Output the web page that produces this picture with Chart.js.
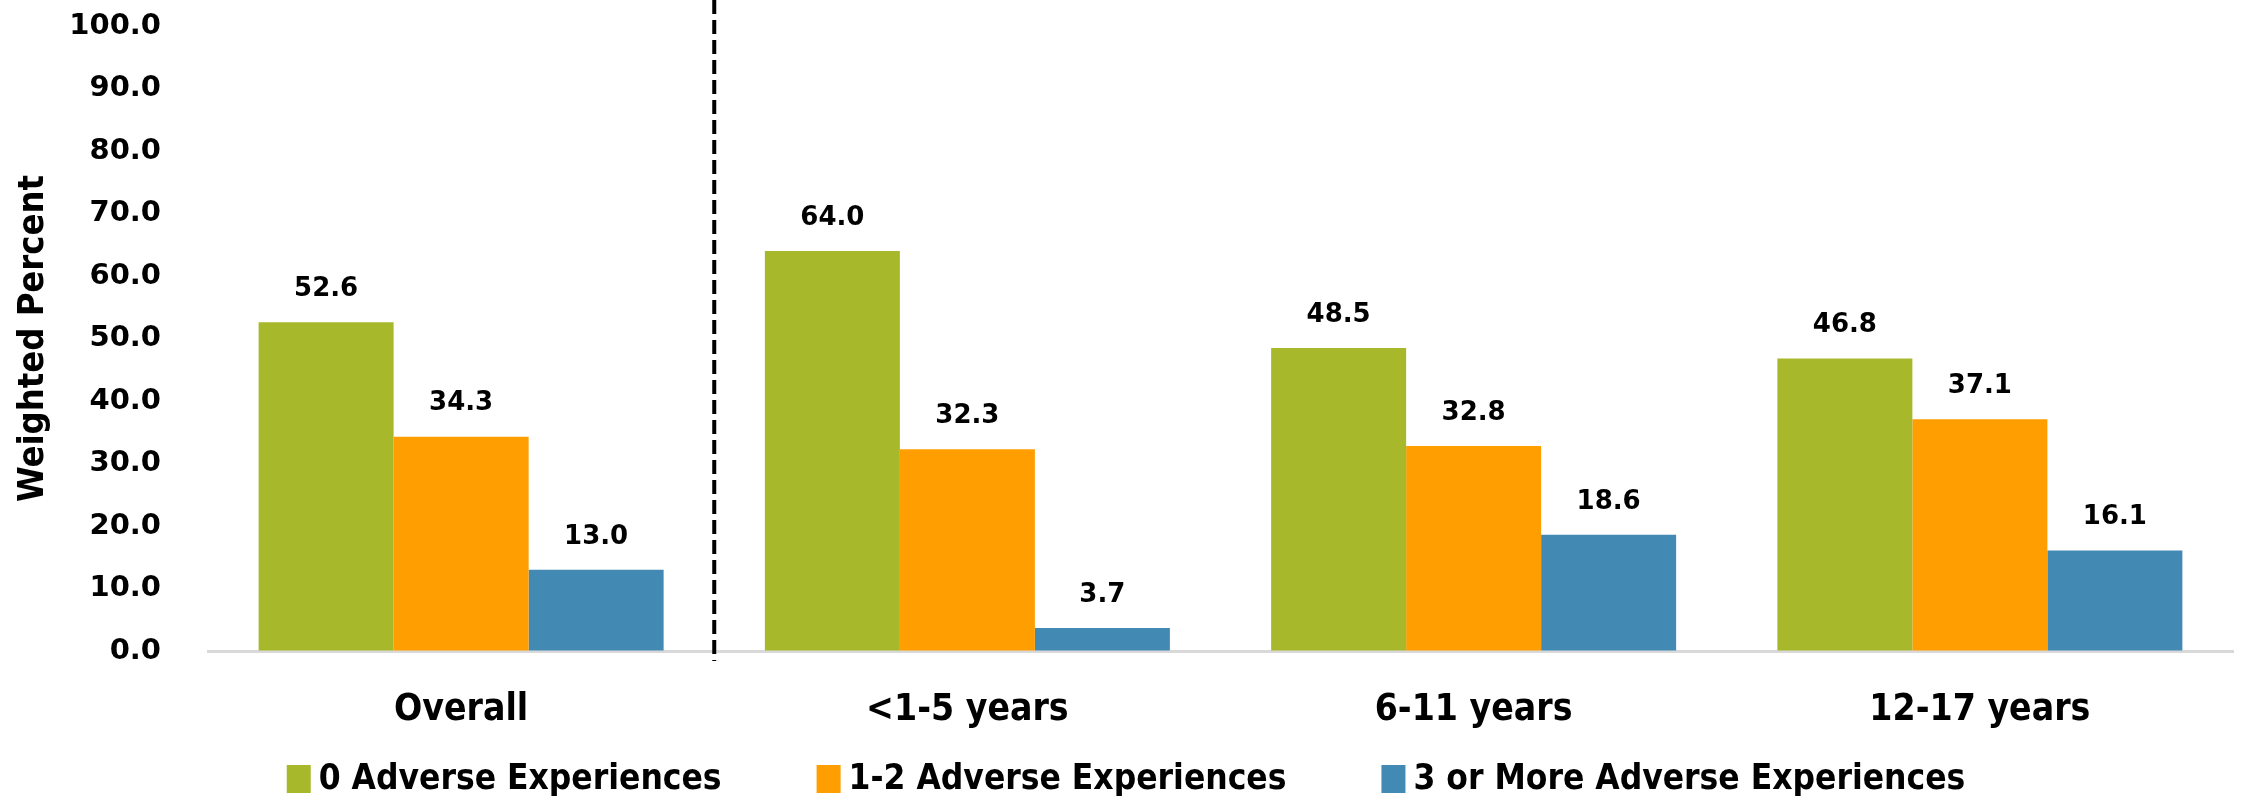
<!DOCTYPE html>
<html>
<head>
<meta charset="utf-8">
<script src="https://cdn.jsdelivr.net/npm/chart.js@4.4.1/dist/chart.umd.min.js"></script>
<style>
  html, body { margin: 0; padding: 0; background: #fff; }
  #wrap { width: 2252px; height: 802px; }
</style>
</head>
<body>
<div id="wrap"><canvas id="chart" width="2252" height="802"></canvas></div>
<script>
// data
const categories = ['Overall', '<1-5 years', '6-11 years', '12-17 years'];
const seriesNames = ['0 Adverse Experiences', '1-2 Adverse Experiences', '3 or More Adverse Experiences'];
const zeroAdverse = [52.6, 64.0, 48.5, 46.8];
const oneTwoAdverse = [34.3, 32.3, 32.8, 37.1];
const threePlusAdverse = [13.0, 3.7, 18.6, 16.1];
const yTickValues = [0, 10, 20, 30, 40, 50, 60, 70, 80, 90, 100];

const colors = ['#A8B82B', '#FF9E00', '#428AB3'];
const numFont = "'DejaVu Sans', sans-serif";
const narrowFont = "'Liberation Sans Narrow', 'DejaVu Sans Condensed', sans-serif";

// value labels above each bar
const barLabels = {
    id: 'barLabels',
    afterDatasetsDraw(chart) {
        const ctx = chart.ctx;
        ctx.save();
        ctx.font = 'bold 26px ' + numFont;
        ctx.fillStyle = '#000';
        ctx.textAlign = 'center';
        ctx.textBaseline = 'bottom';
        chart.data.datasets.forEach((ds, i) => {
            chart.getDatasetMeta(i).data.forEach((bar, j) => {
                ctx.fillText(ds.data[j].toFixed(1), bar.x, bar.y - 20);
            });
        });
        ctx.restore();
    }
};

// dashed separator between Overall and the age groups
const separator = {
    id: 'separator',
    afterDatasetsDraw(chart) {
        const x = chart.scales.x;
        const px = (x.getPixelForValue(0) + x.getPixelForValue(1)) / 2;
        const ctx = chart.ctx;
        ctx.save();
        ctx.strokeStyle = '#000';
        ctx.lineWidth = 4;
        ctx.setLineDash([14, 6]);
        ctx.beginPath();
        ctx.moveTo(px, 0);
        ctx.lineTo(px, chart.chartArea.bottom + 10);
        ctx.stroke();
        ctx.restore();
    }
};

// legend row at the bottom: small gap box->text, wide gap between entries
const bottomLegend = {
    id: 'bottomLegend',
    afterDraw(chart) {
        const ctx = chart.ctx;
        const boxW = 24, boxH = 28, textGap = 8, itemGap = 95, cy = 779;
        ctx.save();
        ctx.font = 'bold 35px ' + narrowFont;
        ctx.textBaseline = 'middle';
        ctx.textAlign = 'left';
        const items = chart.data.datasets.map(ds => ({ text: ds.label, color: ds.backgroundColor, w: ctx.measureText(ds.label).width }));
        const total = items.reduce((s, it) => s + boxW + textGap + it.w, 0) + itemGap * (items.length - 1);
        let x = (chart.width - total) / 2;
        items.forEach(it => {
            ctx.fillStyle = it.color;
            ctx.fillRect(x, cy - boxH / 2, boxW, boxH);
            ctx.fillStyle = '#000';
            ctx.fillText(it.text, x + boxW + textGap, cy + 1);
            x += boxW + textGap + it.w + itemGap;
        });
        ctx.restore();
    }
};

new Chart(document.getElementById('chart'), {
    type: 'bar',
    data: {
        labels: categories,
        datasets: [
            { label: seriesNames[0], data: zeroAdverse, backgroundColor: colors[0] },
            { label: seriesNames[1], data: oneTwoAdverse, backgroundColor: colors[1] },
            { label: seriesNames[2], data: threePlusAdverse, backgroundColor: colors[2] }
        ]
    },
    options: {
        responsive: false,
        animation: false,
        devicePixelRatio: 1,
        layout: { padding: { top: 26, right: 19, left: 0, bottom: 0 } },
        datasets: { bar: { categoryPercentage: 0.8, barPercentage: 1.0 } },
        scales: {
            x: {
                grid: { display: false },
                border: { display: true, color: '#D9D9D9', width: 3 },
                ticks: { color: '#000', font: { family: narrowFont, weight: 'bold', size: 37 }, padding: 29 },
                afterFit(scale) { scale.height = 151; }
            },
            y: {
                min: 0,
                max: 100,
                afterBuildTicks(scale) { scale.ticks = yTickValues.map(v => ({ value: v })); },
                afterFit(scale) { scale.width = 208; },
                // invisible tick marks push the labels away from the plot without adding vertical padding
                grid: { display: true, drawOnChartArea: false, drawTicks: true, tickLength: 40, tickColor: 'rgba(0,0,0,0)' },
                border: { display: false },
                ticks: {
                    color: '#000',
                    padding: 7,
                    font: { family: numFont, weight: 'bold', size: 29 },
                    callback: v => v.toFixed(1)
                },
                title: {
                    display: true,
                    text: 'Weighted Percent',
                    color: '#000',
                    font: { family: narrowFont, weight: 'bold', size: 36 },
                    padding: { top: 12, bottom: 0 }
                }
            }
        },
        plugins: {
            legend: { display: false },
            tooltip: { enabled: false }
        }
    },
    plugins: [barLabels, separator, bottomLegend]
});
</script>
</body>
</html>
